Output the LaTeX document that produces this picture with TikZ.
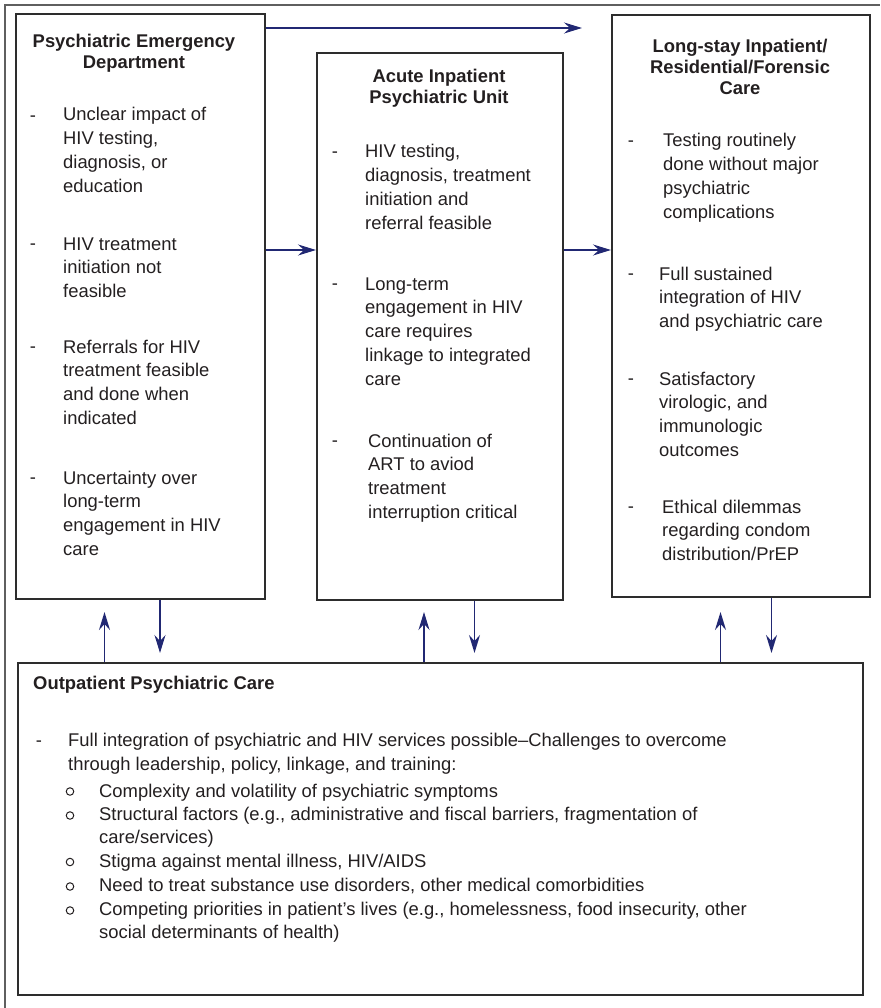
\documentclass[tikz,border=0pt]{standalone}
\usepackage{fontspec}
\setmainfont{Liberation Sans}
\usetikzlibrary{arrows.meta}
\definecolor{ink}{RGB}{35,31,32}
\definecolor{boxgray}{RGB}{45,45,45}
\definecolor{framegray}{RGB}{95,95,95}
\definecolor{arrowblue}{RGB}{33,40,115}
% stacked lines whose baseline is the first line
\newcommand\txtlines[1]{\begin{tabular}[t]{@{}l@{}}#1\end{tabular}}
\newcommand\ttllines[1]{\begin{tabular}[t]{@{}c@{}}#1\end{tabular}}
\begin{document}
\begin{tikzpicture}[x=1pt,y=-1pt,
  box/.style={draw=boxgray, line width=1.6pt, anchor=north west, inner sep=0pt},
  ttl/.style={font=\fontsize{18.4}{21}\selectfont\bfseries, anchor=base, inner sep=0pt, text=ink},
  txt/.style={font=\fontsize{18.4}{23.75}\selectfont, anchor=base west, inner sep=0pt, text=ink},
  dsh/.style={font=\fontsize{18.4}{23.75}\selectfont, anchor=base, inner sep=0pt, text=ink},
  bul/.style={circle, draw=ink, line width=1pt, minimum size=7.5pt, inner sep=0pt},
  arr/.style={draw=arrowblue, line width=1.6pt, -{Stealth[length=18pt,width=11pt,inset=6pt]}},
  frame/.style={draw=framegray, line width=1.2pt},
]
\useasboundingbox (0,0) rectangle (880,1008);

% frame around the figure
\draw[frame] (5,1008) -- (5,5) -- (880,5);

% the four care settings
\node[box, minimum width=249pt, minimum height=585pt] (b1) at (15,13) {};
\node[box, minimum width=246pt, minimum height=547pt] (b2) at (316,52) {};
\node[box, minimum width=258pt, minimum height=582pt] (b3) at (611,14) {};
\node[box, minimum width=845pt, minimum height=332pt] (op) at (17,662) {};

% Psychiatric Emergency Department
\node[ttl] (b1t) at (134,48) {\ttllines{Psychiatric Emergency\\Department}};
\node[dsh] (b1d1) at (33,121.5) {-};
\node[txt] (b1i1) at (63,121) {\txtlines{Unclear impact of\\HIV testing,\\diagnosis, or\\education}};
\node[dsh] (b1d2) at (33,249.5) {-};
\node[txt] (b1i2) at (63,250) {\txtlines{HIV treatment\\initiation not\\feasible}};
\node[dsh] (b1d3) at (33,352.5) {-};
\node[txt] (b1i3) at (63,353) {\txtlines{Referrals for HIV\\treatment feasible\\and done when\\indicated}};
\node[dsh] (b1d4) at (33,483.5) {-};
\node[txt] (b1i4) at (63,484) {\txtlines{Uncertainty over\\long-term\\engagement in HIV\\care}};

% Acute Inpatient Psychiatric Unit
\node[ttl] (b2t) at (439,83) {\ttllines{Acute Inpatient\\Psychiatric Unit}};
\node[dsh] (b2d1) at (335,158) {-};
\node[txt] (b2i1) at (365,158) {\txtlines{HIV testing,\\diagnosis, treatment\\initiation and\\referral feasible}};
\node[dsh] (b2d2) at (335,289.5) {-};
\node[txt] (b2i2) at (365,290) {\txtlines{Long-term\\engagement in HIV\\care requires\\linkage to integrated\\care}};
\node[dsh] (b2d3) at (335,446.5) {-};
\node[txt] (b2i3) at (368,447) {\txtlines{Continuation of\\ART to aviod\\treatment\\interruption critical}};

% Long-stay Inpatient / Residential / Forensic Care
\node[ttl] (b3t) at (740,53) {\ttllines{Long-stay Inpatient/\\Residential/Forensic\\Care}};
\node[dsh] (b3d1) at (631,147) {-};
\node[txt] (b3i1) at (663,147) {\txtlines{Testing routinely\\done without major\\psychiatric\\complications}};
\node[dsh] (b3d2) at (631,279.5) {-};
\node[txt] (b3i2) at (659,280) {\txtlines{Full sustained\\integration of HIV\\and psychiatric care}};
\node[dsh] (b3d3) at (631,384.5) {-};
\node[txt] (b3i3) at (659,385) {\txtlines{Satisfactory\\virologic, and\\immunologic\\outcomes}};
\node[dsh] (b3d4) at (631,512.5) {-};
\node[txt] (b3i4) at (662,513) {\txtlines{Ethical dilemmas\\regarding condom\\distribution/PrEP}};

% Outpatient Psychiatric Care
\node[ttl, anchor=base west] (opt) at (33,689) {Outpatient Psychiatric Care};
\node[dsh] (opd) at (39,746) {-};
\node[txt, font=\fontsize{18.4}{24}\selectfont] (opi) at (68,746) {\txtlines{Full integration of psychiatric and HIV services possible–Challenges to overcome\\through leadership, policy, linkage, and training:}};
\node[bul] (opb1) at (70,791.5) {};
\node[txt] (ops1) at (99,797) {Complexity and volatility of psychiatric symptoms};
\node[bul] (opb2) at (70,815.5) {};
\node[txt] (ops2) at (99,820) {\txtlines{Structural factors (e.g., administrative and fiscal barriers, fragmentation of\\care/services)}};
\node[bul] (opb3) at (70,862) {};
\node[txt] (ops3) at (99,867) {Stigma against mental illness, HIV/AIDS};
\node[bul] (opb4) at (70,886.5) {};
\node[txt] (ops4) at (99,891) {Need to treat substance use disorders, other medical comorbidities};
\node[bul] (opb5) at (70,910.5) {};
\node[txt] (ops5) at (99,915) {\txtlines{Competing priorities in patient’s lives (e.g., homelessness, food insecurity, other\\social determinants of health)}};

% pathway arrows between settings
\coordinate (topEnd) at (582,28);
\coordinate (midY) at (0,250);
\draw[arr] (b1.east |- topEnd) -- (topEnd);
\draw[arr] (b1.east |- midY) -- (b2.west |- midY);
\draw[arr] (b2.east |- midY) -- (b3.west |- midY);

% exchanges with outpatient care
\coordinate (u1) at (104.5,612);
\coordinate (u2) at (424,612);
\coordinate (u3) at (720.5,612);
\coordinate (d1) at (160,653);
\coordinate (d2) at (474.5,653);
\coordinate (d3) at (771.5,653);
\draw[arr] (op.north -| u1) -- (u1);
\draw[arr] (op.north -| u2) -- (u2);
\draw[arr] (op.north -| u3) -- (u3);
\draw[arr] (b1.south -| d1) -- (d1);
\draw[arr] (b2.south -| d2) -- (d2);
\draw[arr] (b3.south -| d3) -- (d3);
\end{tikzpicture}
\end{document}
